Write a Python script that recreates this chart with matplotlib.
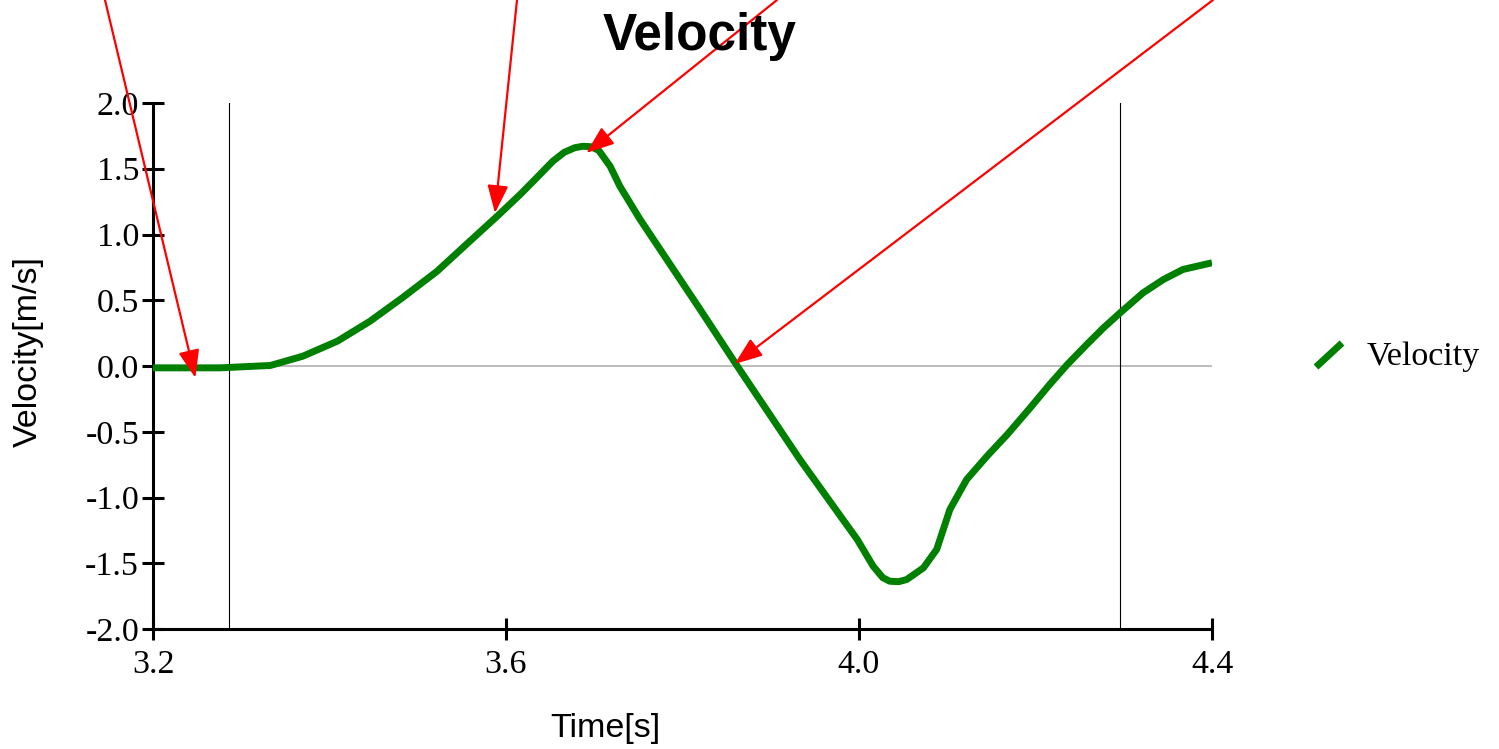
import matplotlib
matplotlib.use('Agg')
import matplotlib.pyplot as plt
from matplotlib.lines import Line2D
import numpy as np

plt.rcParams['axes.unicode_minus'] = False

# velocity trace
T = [3.200, 3.276, 3.333, 3.370, 3.409, 3.446, 3.483, 3.522, 3.559, 3.590,
     3.616, 3.635, 3.653, 3.666, 3.678, 3.687, 3.696, 3.705, 3.718, 3.729,
     3.752, 3.820, 3.862, 3.933, 3.979, 3.998, 4.016, 4.027, 4.035, 4.045,
     4.054, 4.073, 4.088, 4.103, 4.122, 4.145, 4.168, 4.194, 4.216, 4.236,
     4.258, 4.277, 4.296, 4.322, 4.345, 4.367, 4.400]
V = [-0.014, -0.014, 0.004, 0.075, 0.189, 0.341, 0.521, 0.721, 0.949, 1.139,
     1.304, 1.433, 1.557, 1.625, 1.660, 1.671, 1.668, 1.640, 1.519, 1.367,
     1.114, 0.430, 0.000, -0.711, -1.142, -1.319, -1.522, -1.610, -1.637, -1.640,
     -1.624, -1.535, -1.395, -1.091, -0.863, -0.686, -0.521, -0.318, -0.141, 0.011,
     0.163, 0.290, 0.405, 0.557, 0.658, 0.734, 0.785]

VLINES = [3.286, 4.296]
XTICKS = [3.2, 3.6, 4.0, 4.4]
YTICKS = [-2.0, -1.5, -1.0, -0.5, 0.0, 0.5, 1.0, 1.5, 2.0]

# arrow tips (data) and where they come in from (figure pixels, from top-left)
ARROW_TIPS = [(3.248, -0.09), (3.5875, 1.163), (3.691, 1.62), (3.859, 0.015)]
ARROW_FROM = [(105, 0), (517, 0), (777, 0), (1213, 0)]

W, H = 1499, 749
fig = plt.figure(figsize=(W / 100, H / 100), dpi=100)
ax = fig.add_axes([153 / W, 1 - 629 / H, (1212 - 153) / W, (629 - 103) / H])

ax.plot(T, V, color='#008000', lw=5, solid_capstyle='butt',
        solid_joinstyle='round', zorder=3)
ax.axhline(0, color='#b0b0b0', lw=1.2, zorder=1)
for xv in VLINES:
    ax.axvline(xv, color='black', lw=0.8, zorder=1)

ax.set_xlim(3.2, 4.4)
ax.set_ylim(-2.0, 2.0)
ax.set_xticks(XTICKS)
ax.set_xticklabels(['%.1f' % x for x in XTICKS])
ax.set_yticks(YTICKS)
ax.set_yticklabels(['%.1f' % y for y in YTICKS])
for s in ['top', 'right']:
    ax.spines[s].set_visible(False)
for s in ['left', 'bottom']:
    ax.spines[s].set_linewidth(2.2)
ax.tick_params(direction='inout', length=16, width=2.2, labelsize=24.5)
ax.tick_params(axis='x', pad=7)
ax.tick_params(axis='y', pad=2)
for lab in ax.get_xticklabels() + ax.get_yticklabels():
    lab.set_family('Liberation Serif')

for (tx, ty), (fx, fy) in zip(ARROW_TIPS, ARROW_FROM):
    ax.annotate('', xy=(tx, ty), xycoords='data',
                xytext=(fx, H - fy), textcoords='figure pixels',
                annotation_clip=False,
                arrowprops=dict(arrowstyle='-|>,head_length=0.85,head_width=0.32',
                                color='red', lw=1.6, shrinkA=0, shrinkB=0,
                                mutation_scale=20))

fig.text(700 / W, 1 - 50 / H, 'Velocity', ha='center', va='baseline',
         fontsize=37, fontweight='bold', family='Liberation Sans')
fig.text(605 / W, 1 - 737 / H, 'Time[s]', ha='center', va='baseline',
         fontsize=24.5, family='Liberation Sans')
fig.text(28 / W, 1 - 352 / H, 'Velocity[m/s]', ha='center', va='center',
         rotation=90, fontsize=24.5, family='Liberation Sans')

# legend entry
fig.add_artist(Line2D([1316 / W, 1342 / W], [1 - 367 / H, 1 - 343 / H],
                      transform=fig.transFigure, color='#008000', lw=5,
                      solid_capstyle='butt'))
fig.text(1367 / W, 1 - 365 / H, 'Velocity', ha='left', va='baseline',
         fontsize=24.5, family='Liberation Serif')

fig.savefig('out.png', dpi=100)
